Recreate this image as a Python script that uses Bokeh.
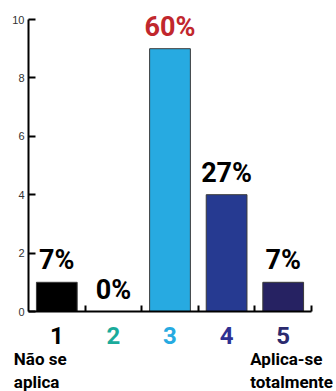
from bokeh.plotting import figure
from bokeh.models import ColumnDataSource, Range1d, FixedTicker, LinearAxis
from bokeh.core.properties import value
from bokeh.embed import file_html
from bokeh.resources import INLINE

# Survey answers on a 1-5 agreement scale
categories = [1, 2, 3, 4, 5]
counts = [1, 0, 9, 4, 1]
bar_colors = ["#000000", "#1aab9b", "#27aae1", "#263a91", "#262262"]
number_colors = ["#000000", "#1aab9b", "#27aae1", "#2e3192", "#2b2a6e"]
pct_colors = ["#000000", "#000000", "#c1272d", "#000000", "#000000"]
y_ticks = [0, 2, 4, 6, 8, 10]
separators = [1.5, 2.5, 3.5, 4.5, 5.5]
low_end = "Não se\naplica"
high_end = "Aplica-se\ntotalmente"

total = sum(counts)
pct_labels = [f"{round(100 * c / total)}%" for c in counts]

HEAVY = value("Roboto")

src = ColumnDataSource(dict(
    x=categories, top=counts, color=bar_colors, pct=pct_labels,
    pct_color=pct_colors, num=[str(c) for c in categories],
    num_color=number_colors, base=[0] * len(categories),
))

# 56.6 px per category, 29.2 px per count; the frame fills the whole canvas
# so that the captions under the axis are not clipped
PX_X, PX_Y = 56.6, 29.2
x0 = 0.5 - 28 / PX_X
y0 = -80 / PX_Y
p = figure(width=336, height=391, output_backend="svg", toolbar_location=None,
           x_range=Range1d(x0, x0 + 336 / PX_X),
           y_range=Range1d(y0, y0 + 391 / PX_Y),
           x_axis_location=None, y_axis_location=None,
           min_border=0)
p.outline_line_color = None
p.grid.grid_line_color = None
p.background_fill_color = "white"
p.border_fill_color = "white"

p.vbar(x="x", top="top", width=0.72, bottom=0, source=src,
       fill_color="color", line_color="#3a3a3a", line_width=1)

# y axis pinned at the left edge of the first category, ticks inward
yaxis = LinearAxis(fixed_location=0.5, bounds=(0, 10),
                   ticker=FixedTicker(ticks=y_ticks),
                   major_tick_in=7, major_tick_out=0,
                   minor_tick_line_color=None, axis_line_width=2,
                   major_tick_line_width=2, major_label_standoff=4,
                   major_label_text_font="Liberation Sans",
                   major_label_text_font_size="11px",
                   major_label_text_color="#333333")
p.add_layout(yaxis, "left")

# x axis pinned at zero: separators between categories, no labels
xaxis = LinearAxis(fixed_location=0, bounds=(0.5, 5.5),
                   ticker=FixedTicker(ticks=separators),
                   major_tick_in=6, major_tick_out=0,
                   minor_tick_line_color=None, axis_line_width=2,
                   major_tick_line_width=2, major_label_standoff=0,
                   major_label_overrides={t: "" for t in separators})
p.add_layout(xaxis, "below")

# percentage above each bar
p.text(x="x", y="top", text="pct", source=src,
       text_color="pct_color", text_align="center",
       text_baseline="bottom", y_offset=-6,
       text_font=HEAVY, text_font_style="bold",
       text_font_size="27px")

# category numbers under the axis
p.text(x="x", y="base", text="num", source=src,
       text_color="num_color", text_align="center",
       text_baseline="middle", y_offset=24,
       text_font=HEAVY, text_font_style="bold",
       text_font_size="24px")

# scale end descriptions
for txt, cat, dx in [(low_end, categories[0], -43),
                     (high_end, categories[-1], -33)]:
    p.text(x=[cat], y=[0], text=[txt], x_offset=dx, y_offset=37,
           text_color="#000000", text_align="left", text_baseline="top",
           text_line_height=1.15,
           text_font=HEAVY, text_font_style="bold",
           text_font_size="17px")

open("out.html", "w").write(file_html(p, INLINE))
